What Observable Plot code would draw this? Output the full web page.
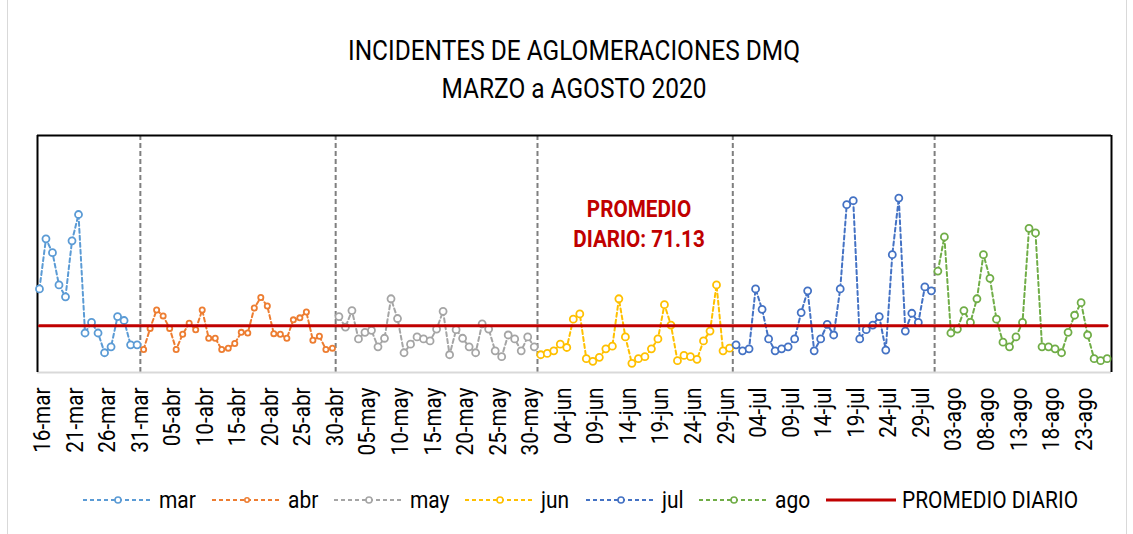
<!DOCTYPE html>
<html>
<head>
<meta charset="utf-8">
<script src="https://cdn.jsdelivr.net/npm/d3@7"></script>
<script src="https://cdn.jsdelivr.net/npm/@observablehq/plot@0.6"></script>
<style>
  body { margin: 0; background: #fff; }
  #wrap { position: relative; width: 1133px; height: 534px; overflow: hidden; background: #fff;
          font-family: Roboto, "DejaVu Sans Condensed", sans-serif; color: #000; }
  #border { position: absolute; left: 7px; top: 0; width: 1120px; height: 534px; box-sizing: border-box;
            border-left: 1px solid #D9D9D9; border-right: 1px solid #D9D9D9; }
  #title { position: absolute; left: 15px; width: 1118px; top: 32px; text-align: center; font-size: 28px; line-height: 38px;
           transform: scaleX(0.873); }
  #chart { position: absolute; left: 0; top: 0; }
  #note { position: absolute; left: 539px; width: 200px; top: 194px; text-align: center; color: #C00000;
          font-weight: bold; font-size: 23.5px; line-height: 30px; transform: scaleX(0.88); }
  #legend { position: absolute; left: 0; width: 1133px; top: 486px; height: 28px; display: flex; justify-content: center;
            align-items: center; font-size: 23.8px; padding-left: 44px; box-sizing: border-box; }
  .item { display: flex; align-items: center; margin-right: 16px; }
  .item svg { margin-right: 6px; }
  .item span { display: inline-block; transform: scaleX(0.88); transform-origin: left center; white-space: nowrap; }
</style>
</head>
<body>
<div id="wrap">
  <div id="border"></div>
  <div id="title">INCIDENTES DE AGLOMERACIONES DMQ<br>MARZO a AGOSTO 2020</div>
  <div id="chart"></div>
  <div id="note">PROMEDIO<br>DIARIO: 71.13</div>
  <div id="legend"></div>
</div>
<script>
// ---- data (daily incidents) ----
const meses = ["mar", "abr", "may", "jun", "jul", "ago"];
const mesNumero = [2, 3, 4, 5, 6, 7];           // JS month index
const primerDia = [16, 1, 1, 1, 1, 1];
const colores = ["#5B9BD5", "#ED7D31", "#A5A5A5", "#FFC000", "#4472C4", "#70AD47"];

const mar = [127, 203, 182, 133, 115, 200, 240, 60, 76, 60, 30, 39, 85, 79, 42, 42];
const abr = [35, 67, 95, 86, 67, 35, 58, 75, 65, 95, 52, 52, 35, 37, 44, 61, 60, 98, 114, 101, 59, 58, 52, 80, 83, 92, 49, 55, 35, 37];
const may = [85, 69, 94, 51, 61, 64, 39, 52, 112, 82, 30, 43, 54, 51, 48, 66, 93, 27, 65, 52, 39, 30, 74, 66, 33, 24, 57, 51, 33, 54, 39];
const jun = [27, 29, 33, 43, 38, 81, 89, 21, 17, 23, 36, 40, 112, 54, 14, 21, 24, 36, 51, 103, 72, 18, 26, 24, 20, 48, 63, 133, 33, 37];
const jul = [42, 33, 36, 127, 96, 51, 33, 36, 39, 51, 91, 124, 33, 51, 73, 57, 127, 255, 261, 51, 65, 72, 85, 34, 179, 265, 63, 90, 76, 130, 124];
const ago = [154, 206, 60, 66, 94, 76, 112, 179, 143, 81, 46, 39, 54, 76, 219, 212, 39, 39, 36, 30, 61, 87, 106, 57, 21, 18, 21];
const series = [mar, abr, may, jun, jul, ago];

const promedio = 71.13;

const etiquetas = ["16-mar","21-mar","26-mar","31-mar","05-abr","10-abr","15-abr","20-abr","25-abr","30-abr",
  "05-may","10-may","15-may","20-may","25-may","30-may","04-jun","09-jun","14-jun","19-jun","24-jun","29-jun",
  "04-jul","09-jul","14-jul","19-jul","24-jul","29-jul","03-ago","08-ago","13-ago","18-ago","23-ago"];

const separadores = ["2020-03-31", "2020-04-30", "2020-05-31", "2020-06-30", "2020-07-31"];

// ---- build table ----
const DAY = 864e5;
const rows = [];
series.forEach((vals, k) => vals.forEach((v, j) => {
  rows.push({ fecha: new Date(Date.UTC(2020, mesNumero[k], primerDia[k] + j)), valor: v, mes: meses[k] });
}));
const parseEtiqueta = s => {
  const [d, m] = s.split("-");
  return new Date(Date.UTC(2020, mesNumero[meses.indexOf(m)], +d));
};
const tickDates = etiquetas.map(parseEtiqueta);
const tickText = new Map(tickDates.map((d, i) => [+d, etiquetas[i]]));
const sepDates = separadores.map(s => new Date(Date.parse(s + "T12:00:00Z")));

const first = rows[0].fecha, last = rows[rows.length - 1].fecha;
const xDomain = [new Date(+first - 0.3 * DAY), new Date(+last + 0.67 * DAY)];
const yTop = 360;

const chart = Plot.plot({
  width: 1133,
  height: 470,
  marginLeft: 37,
  marginRight: 22,
  marginTop: 135,
  marginBottom: 98,
  style: { fontFamily: 'Roboto, "DejaVu Sans Condensed", sans-serif', fontSize: "22px", background: "transparent", color: "#000" },
  x: { type: "utc", domain: xDomain, axis: null },
  y: { domain: [0, yTop], axis: null },
  color: { domain: meses, range: colores },
  marks: [
    Plot.ruleX(sepDates, { stroke: "#7F7F7F", strokeWidth: 2, strokeDasharray: "5,3" }),
    Plot.ruleY([0], { stroke: "#D9D9D9", strokeWidth: 2 }),
    Plot.ruleY([yTop], { stroke: "#000", strokeWidth: 2 }),
    Plot.ruleX(xDomain, { stroke: "#000", strokeWidth: 2 }),
    Plot.line(rows, { x: "fecha", y: "valor", z: "mes", stroke: "mes", strokeWidth: 2, strokeDasharray: "4,3" }),
    Plot.dot(rows.filter(d => d.mes !== "abr"), { x: "fecha", y: "valor", stroke: "mes", fill: "white", r: 3.5, strokeWidth: 1.8 }),
    Plot.dot(rows.filter(d => d.mes === "abr"), { x: "fecha", y: "valor", stroke: "mes", fill: "white", r: 2.6, strokeWidth: 1.8 }),
    Plot.line(rows, { x: "fecha", y: () => promedio, stroke: "#C00000", strokeWidth: 3 }),
    Plot.text(tickDates, { x: d => d, frameAnchor: "bottom", rotate: -90, textAnchor: "end", lineAnchor: "middle",
      text: d => tickText.get(+d), dy: 15, dx: 3, fill: "#000", fontSize: 23.5, className: "ticklab" })
  ]
});
document.getElementById("chart").appendChild(chart);
// condensed look for the tick labels
chart.querySelectorAll(".ticklab text").forEach(el => {
  const tr = el.getAttribute("transform") || "";
  el.setAttribute("transform", tr + " scale(0.88,1)");
});

// ---- legend ----
const legend = document.getElementById("legend");
const ns = "http://www.w3.org/2000/svg";
function swatch(color, dashed, r) {
  const svg = document.createElementNS(ns, "svg");
  svg.setAttribute("width", 70); svg.setAttribute("height", 14);
  const line = document.createElementNS(ns, "line");
  line.setAttribute("x1", 0); line.setAttribute("x2", 70); line.setAttribute("y1", 7); line.setAttribute("y2", 7);
  line.setAttribute("stroke", color); line.setAttribute("stroke-width", dashed ? 2 : 3);
  if (dashed) line.setAttribute("stroke-dasharray", "4,3");
  svg.appendChild(line);
  if (r) {
    const c = document.createElementNS(ns, "circle");
    c.setAttribute("cx", 35); c.setAttribute("cy", 7); c.setAttribute("r", r);
    c.setAttribute("fill", "white"); c.setAttribute("stroke", color); c.setAttribute("stroke-width", 1.6);
    svg.appendChild(c);
  }
  return svg;
}
const spans = [];
function addItem(label, color, dashed, r) {
  const it = document.createElement("div"); it.className = "item";
  it.appendChild(swatch(color, dashed, r));
  const t = document.createElement("span"); t.textContent = label; it.appendChild(t);
  legend.appendChild(it);
  spans.push(t);
}
meses.forEach((m, i) => addItem(m, colores[i], true, m === "abr" ? 2.2 : 3));
addItem("PROMEDIO DIARIO", "#C00000", false, 0);
spans.forEach(s => { s.style.marginRight = (-s.offsetWidth * 0.12) + "px"; });
</script>
</body>
</html>
